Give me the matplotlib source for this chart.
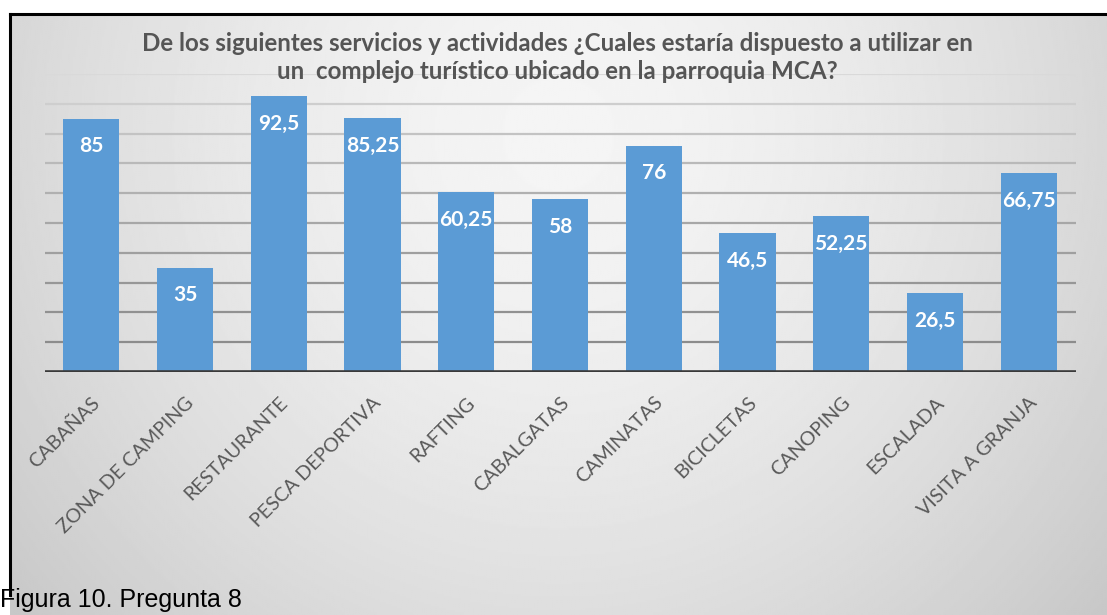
import numpy as np
import matplotlib.pyplot as plt
from matplotlib.lines import Line2D
from matplotlib.transforms import ScaledTranslation

categorias = ["CABAÑAS", "ZONA DE CAMPING", "RESTAURANTE", "PESCA DEPORTIVA",
              "RAFTING", "CABALGATAS", "CAMINATAS", "BICICLETAS", "CANOPING",
              "ESCALADA", "VISITA A GRANJA"]
valores = [85, 35, 92.5, 85.25, 60.25, 58, 76, 46.5, 52.25, 26.5, 66.75]
niveles = [10, 20, 30, 40, 50, 60, 70, 80, 90, 100]

titulo = ("De los siguientes servicios y actividades ¿Cuales estaría dispuesto a utilizar en\n"
          "un  complejo turístico ubicado en la parroquia MCA?")
pie = "Figura 10. Pregunta 8"

W, H = 1107, 615
fig = plt.figure(figsize=(W / 100, H / 100), dpi=100)
fig.patch.set_facecolor("white")

# fondo gris degradado
bg = fig.add_axes([10 / W, 0, 1 - 10 / W, 1 - 14 / H])
yy, xx = np.mgrid[0:1:300j, 0:1:600j]
r = np.sqrt(((xx - 0.5) / 0.75) ** 2 + ((yy - 0.2) / 1.4) ** 2)
g = 0.96 - 0.22 * r ** 1.6
bg.imshow(g, cmap="gray", vmin=0, vmax=1, aspect="auto", extent=[0, 1, 0, 1],
          origin="upper")
bg.set_axis_off()

fig.add_artist(Line2D([10 / W, 1], [1 - 14 / H, 1 - 14 / H], color="black", lw=2.2))
fig.add_artist(Line2D([10 / W, 10 / W], [1 - 14 / H, 20 / H], color="black", lw=2.2))

ax = fig.add_axes([44.5 / W, (H - 372) / H, 1031 / W, 298 / H])
ax.patch.set_alpha(0)
x = np.arange(len(categorias))
ax.set_xlim(-0.5, len(categorias) - 0.5)
ax.set_ylim(0, 100)

for k, n in enumerate(niveles):
    c = 0.55 + 0.3 * (k / (len(niveles) - 1)) ** 1.3
    ax.axhline(n, color=(c, c, c), lw=1.6, zorder=1)

ax.bar(x, valores, width=0.6, color="#5B9BD5", zorder=2)
ax.axhline(0, color="#3a3a3a", lw=2.6, zorder=3)

for xi, v in zip(x, valores):
    ax.annotate(f"{v:g}".replace(".", ","), (xi, v), xytext=(0, -20),
                textcoords="offset points", ha="center", va="center",
                color="white", fontsize=15, fontweight="bold", family="Lato",
                zorder=4)

ax.set_yticks([])
ax.set_xticks(x)
ax.set_xticklabels(categorias, rotation=45, ha="right", va="center",
                   rotation_mode="anchor", fontsize=14.2, color="#595959",
                   family="Lato")
ax.tick_params(axis="x", length=0, pad=20)
shift = ScaledTranslation(6 / 100, 0, fig.dpi_scale_trans)
for lab in ax.get_xticklabels():
    lab.set_transform(lab.get_transform() + shift)
for s in ax.spines.values():
    s.set_visible(False)

fig.text(557 / W, 1 - 57.5 / H, titulo, ha="center", va="center",
         fontsize=17.4, fontweight="bold", color="#555555", family="Lato",
         linespacing=1.3)

fig.text(0.5 / W, 3 / H, pie, ha="left", va="bottom", fontsize=18,
         color="black", family="Liberation Sans")

fig.savefig("out.png", dpi=100)
